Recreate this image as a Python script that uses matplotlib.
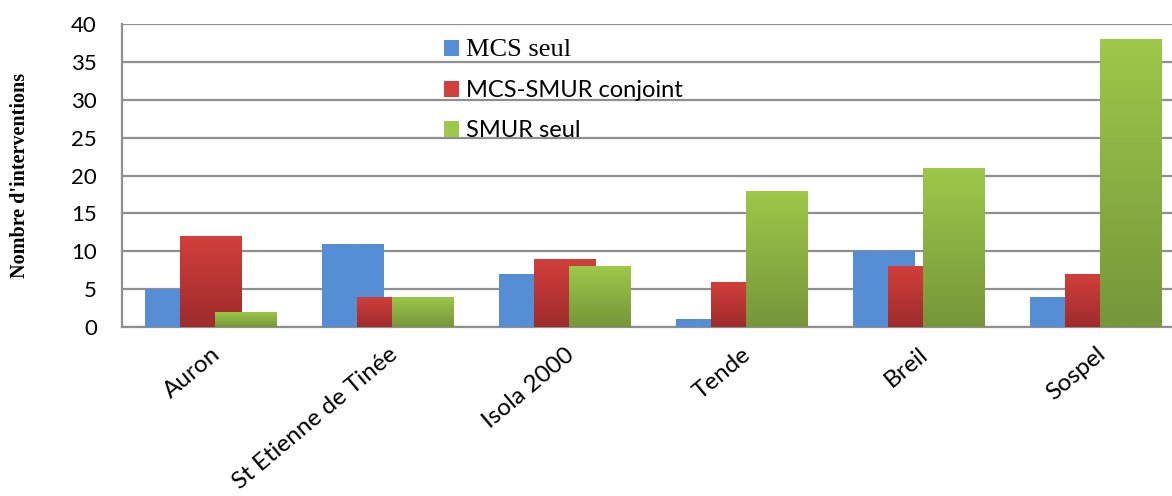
import numpy as np
import matplotlib.pyplot as plt
from matplotlib.colors import LinearSegmentedColormap

# data
sites = ['Auron', 'St Etienne de Tinée', 'Isola 2000', 'Tende', 'Breil', 'Sospel']
mcs_seul = [5, 11, 7, 1, 10, 4]
mcs_smur = [12, 4, 9, 6, 8, 7]
smur_seul = [2, 4, 8, 18, 21, 38]
series_names = ['MCS seul', 'MCS-SMUR conjoint', 'SMUR seul']

colors_top = ['#558ED5', '#D23F3C', '#9DC84A']
colors_bot = ['#558ED5', '#9E2B2B', '#76963A']

fig = plt.figure(figsize=(11.72, 4.96), dpi=100)
ax = fig.add_axes([122 / 1172, 169 / 496, 1062 / 1172, 303 / 496])

x = np.arange(len(sites))
step = 0.2
width = 0.345
grad = np.linspace(0, 1, 100).reshape(-1, 1)

handles = []
for i, vals in enumerate([mcs_seul, mcs_smur, smur_seul]):
    cmap = LinearSegmentedColormap.from_list('g%d' % i, [colors_bot[i], colors_top[i]])
    bars = ax.bar(x + (i - 1) * step, vals, width, color=colors_top[i],
                  zorder=3 + i, label=series_names[i])
    for b in bars:
        bx, by = b.get_x(), b.get_y()
        im = ax.imshow(grad, cmap=cmap, origin='lower', aspect='auto',
                       extent=[bx, bx + b.get_width(), by, by + b.get_height()],
                       zorder=3 + i)
        im.set_clip_path(b)
    handles.append(bars)

ax.set_xlim(-0.5, 5.5)
ax.set_ylim(0, 40)
ax.set_yticks(range(0, 45, 5))
ax.yaxis.grid(True, color='#8F8F8F', linewidth=1.6, zorder=1)
ax.set_axisbelow(True)
for s in ['top', 'right']:
    ax.spines[s].set_visible(False)
for s in ['left', 'bottom']:
    ax.spines[s].set_color('#8F8F8F')
    ax.spines[s].set_linewidth(1.6)

ax.tick_params(axis='y', length=0, pad=18, labelsize=16)
ax.tick_params(axis='x', length=0, pad=12)
for t in ax.get_yticklabels():
    t.set_fontfamily('Lato')
ax.set_xticks(x)
ax.set_xticklabels(sites, rotation=40, ha='right', va='top',
                   rotation_mode='anchor', fontsize=17.5, fontfamily='Lato')

ax.set_ylabel("Nombre d'interventions", fontsize=14.5, fontweight='bold',
              fontfamily='Liberation Serif', labelpad=30)

leg = ax.legend(handles=handles, loc='upper left', bbox_to_anchor=(0.283, 1.02),
                frameon=False, prop={'family': 'Lato', 'size': 17},
                handlelength=0.65, handleheight=0.65, handletextpad=0.3,
                labelspacing=0.8)
leg.get_texts()[0].set_fontfamily('Liberation Serif')
leg.get_texts()[0].set_fontsize(19)

fig.savefig('out.png', dpi=100)
